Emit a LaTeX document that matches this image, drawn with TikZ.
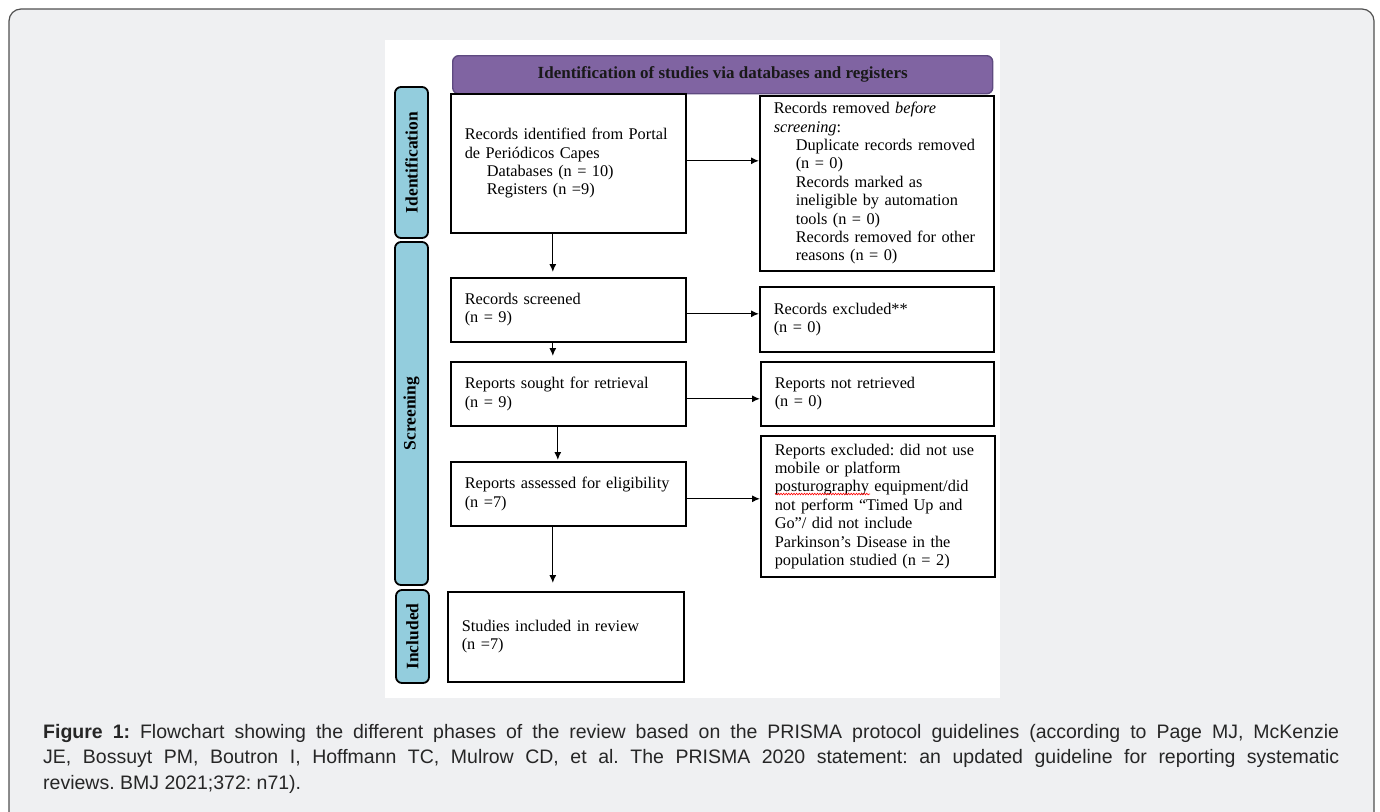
\documentclass[tikz,border=0pt]{standalone}
\usepackage{fontspec}
\setmainfont{Liberation Serif}
\newfontfamily\capfont{Liberation Sans}
\usetikzlibrary{arrows.meta,decorations.pathmorphing}
\definecolor{panelgray}{HTML}{EFF0F2}
\definecolor{framegray}{HTML}{505050}
\definecolor{headpurple}{HTML}{8064A2}
\definecolor{headedge}{HTML}{5E4A80}
\definecolor{phaseblue}{HTML}{93CDDD}
\definecolor{captext}{HTML}{262626}
\tolerance=10000
\hbadness=10000
\frenchspacing
\tikzset{
  box/.style={draw=black,line width=1.6pt,fill=white,anchor=north west,inner xsep=14pt,inner ysep=4pt,
    align=left,text width=#1,font=\fontsize{16.3}{18.4}\selectfont},
  box/.default=207pt,
  phase/.style={draw=black,line width=1.8pt,fill=phaseblue,rounded corners=6pt,rotate=90,
    minimum height=33pt,inner sep=0pt,font=\bfseries\fontsize{17.5}{18}\selectfont},
  head/.style={draw=headedge,line width=1.4pt,fill=headpurple,rounded corners=6pt,anchor=north west,
    minimum width=540pt,minimum height=38pt,text=black!90,font=\bfseries\fontsize{17}{19}\selectfont},
  flow/.style={->,line width=1.3pt,>={Latex[length=8pt,width=7pt]}},
  spell/.style={red,line width=0.6pt,decorate,decoration={snake,amplitude=0.8pt,segment length=2.6pt}}
}
\begin{document}
\begin{tikzpicture}[x=1pt,y=-1pt]
\useasboundingbox (0,0) rectangle (1380,811);
\clip (0,0) rectangle (1380,811);
\draw [framegray,fill=panelgray,line width=1.2pt,rounded corners=12pt] (9,9) rectangle (1374,840);
\fill [white] (385,40) rectangle (1000,698);

\node [head] (hdr) at (452,55) {Identification of studies via databases and registers};

\node [phase,minimum width=151pt] (idph) at (411.5,162.5) {Identification};
\node [phase,minimum width=343pt] (scph) at (411.5,413.5) {Screening};
\node [phase,minimum width=93pt] (inph) at (412.5,636.5) {Included};

\node [box,minimum height=139pt] (ident) at (450,93) {Records identified from Portal\\de Periódicos Capes\\\hspace*{22pt}Databases (n = 10)\\\hspace*{22pt}Registers (n =9)};
\node [box=206pt,minimum height=175pt] (rem) at (759,95) {Records removed \textit{before}\\\textit{screening}:\\\hspace*{22pt}Duplicate records removed\\\hspace*{22pt}(n = 0)\\\hspace*{22pt}Records marked as\\\hspace*{22pt}ineligible by automation\\\hspace*{22pt}tools (n = 0)\\\hspace*{22pt}Records removed for other\\\hspace*{22pt}reasons (n = 0)};

\node [box,minimum height=64pt] (scr) at (450,277) {Records screened\\(n = 9)};
\node [box=206pt,minimum height=65pt] (exc) at (759,286) {Records excluded**\\(n = 0)};

\node [box,minimum height=64pt] (sought) at (450,361) {Reports sought for retrieval\\(n = 9)};
\node [box=205pt,minimum height=64pt] (notret) at (760,361) {Reports not retrieved\\(n = 0)};

\node [box,minimum height=64pt] (elig) at (450,461) {Reports assessed for eligibility\\(n =7)};
\node [box=206pt,minimum height=141pt] (rexc) at (760,435) {Reports excluded: did not use\\mobile or platform\\posturography equipment/did\\not perform “Timed Up and\\Go”/ did not include\\Parkinson’s Disease in the\\population studied (n = 2)};
\draw [spell] ([shift={(15,59)}]rexc.north west) -- ++(95,0);

\node [box=208pt,minimum height=90pt] (incl) at (447,591) {Studies included in review\\(n =7)};

\draw [flow] ([yshift=2.5pt]ident.east) -- ([yshift=2.5pt]ident.east -| rem.west);
\draw [flow] ([yshift=-4pt]scr.east) -- ([yshift=-4pt]scr.east -| exc.west);
\draw [flow] ([yshift=-5pt]sought.east) -- ([yshift=-5pt]sought.east -| notret.west);
\draw [flow] ([yshift=-5pt]elig.east) -- ([yshift=-5pt]elig.east -| rexc.west);

\draw [flow,shorten >=5pt] ([xshift=-15.5pt]ident.south) -- ([xshift=-15.5pt]ident.south |- scr.north);
\draw [flow,shorten >=5pt] ([xshift=-15.5pt]scr.south) -- ([xshift=-15.5pt]scr.south |- sought.north);
\draw [flow,shorten >=1pt] ([xshift=-10.5pt]sought.south) -- ([xshift=-10.5pt]sought.south |- elig.north);
\draw [flow,shorten >=8pt] ([xshift=-15.5pt]elig.south) -- ([xshift=-15.5pt]elig.south |- incl.north);

\node [anchor=north west,inner sep=0pt,text width=1296pt,align=justify,text=captext,
  font=\capfont\fontsize{19.5}{25.5}\selectfont] (cap) at (43,724)
  {\textbf{Figure 1:} Flowchart showing the different phases of the review based on the PRISMA protocol guidelines (according to Page MJ, McKenzie\linebreak JE, Bossuyt PM, Boutron I, Hoffmann TC, Mulrow CD, et al. The PRISMA 2020 statement: an updated guideline for reporting systematic\linebreak reviews. BMJ 2021;372: n71).};
\end{tikzpicture}
\end{document}
